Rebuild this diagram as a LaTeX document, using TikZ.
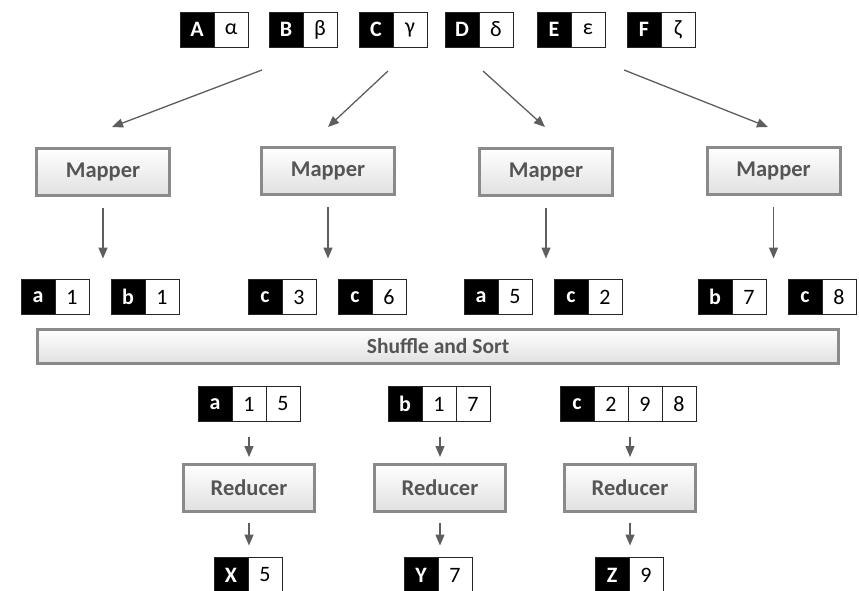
\documentclass[tikz,border=0pt]{standalone}
\usepackage{fontspec}
\setmainfont{Carlito}
\usetikzlibrary{positioning,arrows.meta}

\definecolor{boxline}{HTML}{8A8A8A}
\definecolor{boxtext}{HTML}{555555}
\definecolor{flowgray}{HTML}{5E5E5E}

% a black key cell with its white value cells chained to the right
\newcommand{\kvpair}[4]{%
	\node[keycell,anchor=west] (#1-0) at (#2) {#3};
	\foreach \v [count=\i, evaluate=\i as \j using int(\i-1)] in {#4}
		\node[valcell,right=0pt of #1-\j] (#1-\i) {\v};
}

\begin{document}
\begin{tikzpicture}[
		x=1pt,y=-1pt,
		cell/.style={draw=black!85,line width=1pt,minimum height=35pt,inner sep=0pt,outer sep=0pt,
			font=\fontsize{22}{22}\selectfont},
		keycell/.style={cell,fill=black,text=white,minimum width=34pt,font=\bfseries\fontsize{22}{22}\selectfont},
		valcell/.style={cell,fill=white,text=black,minimum width=34pt},
		stage/.style={draw=boxline,line width=3pt,top color=white,bottom color=black!12,
			text=boxtext,font=\bfseries\fontsize{22.5}{22.5}\selectfont,inner sep=0pt},
		mapper/.style={stage,minimum width=133pt,minimum height=47pt},
		reducer/.style={stage,minimum width=131pt,minimum height=47pt},
		flow/.style={draw=flowgray,line width=1.3pt,-{Triangle[length=11pt,width=9pt]},fill=flowgray}
	]
	\useasboundingbox (0,0) rectangle (859,590);

	% input records
	\kvpair{in1}{180,29.5}{A}{α}
	\kvpair{in2}{269,29.5}{B}{β}
	\kvpair{in3}{359,29.5}{C}{γ}
	\kvpair{in4}{445,29.5}{D}{δ}
	\kvpair{in5}{537,29.5}{E}{ε}
	\kvpair{in6}{627,29.5}{F}{ζ}

	% map stage
	\node[mapper] (m1) at (103,172) {Mapper};
	\node[mapper] (m2) at (328,171) {Mapper};
	\node[mapper] (m3) at (546,172) {Mapper};
	\node[mapper] (m4) at (773.5,171) {Mapper};

	\coordinate (s1) at (262,70);  \coordinate (e1) at (112,127);
	\coordinate (s2) at (388,71);  \coordinate (e2) at (328,127);
	\coordinate (s3) at (483,71);  \coordinate (e3) at (545,127);
	\coordinate (s4) at (624,70);  \coordinate (e4) at (768,127);
	\foreach \k in {1,...,4}
		\draw[flow] (s\k) -- (e\k);

	% intermediate pairs
	\kvpair{o1}{21,297}{a}{1}
	\kvpair{o2}{111,297}{b}{1}
	\kvpair{o3}{248,297}{c}{3}
	\kvpair{o4}{338,297}{c}{6}
	\kvpair{o5}{464,297}{a}{5}
	\kvpair{o6}{554,297}{c}{2}
	\kvpair{o7}{698,297}{b}{7}
	\kvpair{o8}{788,297}{c}{8}

	\foreach \k/\o in {1/1,2/3,3/5,4/7}
		\draw[flow,shorten <=11pt,shorten >=21pt] (m\k.south) -- (m\k.south |- o\o-0.north);

	\node[stage,minimum width=801pt,minimum height=34pt,font=\bfseries\fontsize{21.5}{21.5}\selectfont] (shuffle) at (438,346.5) {Shuffle and Sort};

	% reduce stage
	\kvpair{ri1}{198,404}{a}{1,5}
	\kvpair{ri2}{388,404}{b}{1,7}
	\kvpair{ri3}{560,404}{c}{2,9,8}

	\node[reducer] (r1) at (249,488) {Reducer};
	\node[reducer] (r2) at (440,488) {Reducer};
	\node[reducer] (r3) at (630,488) {Reducer};

	\kvpair{ro1}{214,575}{X}{5}
	\kvpair{ro2}{404,575}{Y}{7}
	\kvpair{ro3}{595,575}{Z}{9}

	\foreach \k in {1,2,3} {
		\draw[flow,shorten <=15pt,shorten >=6pt] (r\k.north |- ri\k-0.south) -- (r\k.north);
		\draw[flow,shorten <=10pt,shorten >=12pt] (r\k.south) -- (r\k.south |- ro\k-0.north);
	}
\end{tikzpicture}
\end{document}
